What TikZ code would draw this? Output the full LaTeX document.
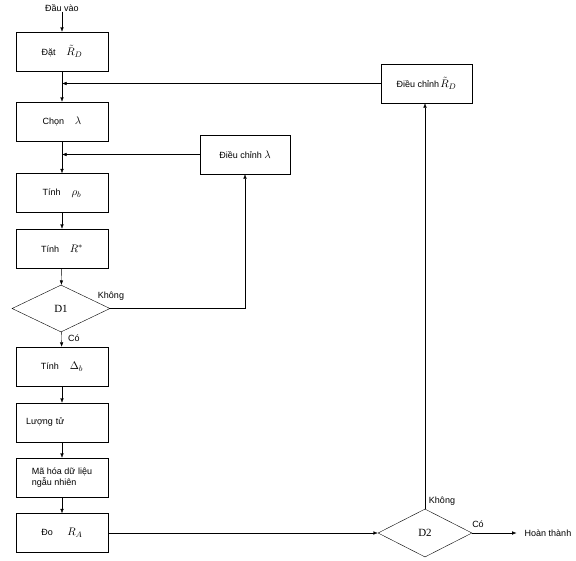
\documentclass[tikz,border=0pt]{standalone}
\usepackage{fontspec}
\setmainfont{Liberation Sans}
\newfontfamily\decfont{Liberation Serif}
\usepackage{amsmath}
\usetikzlibrary{shapes.geometric,arrows.meta}
\newcommand{\mth}[1]{{\fontsize{11}{13}\selectfont$#1$}}

\begin{document}
\begin{tikzpicture}[x=1pt,y=1pt,font=\fontsize{9}{11}\selectfont]
		\tikzstyle{every node}+=[inner sep=0pt]
		\tikzstyle{box}=[draw=black, minimum width=92pt, minimum height=39pt]
		\tikzstyle{dec}=[draw=black, diamond, minimum width=98pt, minimum height=47pt, font=\fontsize{11}{13}\decfont]
		\tikzstyle{flow}=[draw=black, -{Latex[length=4.5pt,width=3.5pt]}]
		\useasboundingbox (0,0) rectangle (576,-560);
		\node (vao) at (62,-8) {Đầu vào};
		\node [box] (dat) at (62,-51.5) {Đặt\hspace{1.2em}\mth{\tilde{R}_D}};
		\node [box] (chon) at (62,-121.5) {Chọn\hspace{1.2em}\mth{\lambda}};
		\node [box] (rho) at (62,-193) {Tính\hspace{1.2em}\mth{\rho_b}};
		\node [box] (rstar) at (62,-248.5) {Tính\hspace{1.2em}\mth{R^*}};
		\node [dec] (d1) at (61,-308.5) {D1};
		\node [box] (delta) at (62,-366.5) {Tính\hspace{1.2em}\mth{\Delta_b}};
		\node [box, text width=72pt, align=left] (luong) at (62,-422.5) {Lượng tử};
		\node [box, align=left] (mahoa) at (62,-477.5) {Mã hóa dữ liệu\\ngẫu nhiên};
		\node [box] (do) at (62,-533) {Đo\hspace{1.6em}\mth{R_A}};
		\node [box, minimum width=90pt] (dclam) at (245,-154.5) {Điều chỉnh \mth{\lambda}};
		\node [box, minimum width=91pt] (dcR) at (426.5,-83.5) {Điều chỉnh\hspace{1pt}\mth{\tilde{R}_D}};
		\node [dec, minimum width=94pt, minimum height=48pt] (d2) at (425,-533) {D2};
		\node (hoan) at (548,-533) {Hoàn thành};
		% nhan
		\node (khong1) at (111,-296) {Không};
		\node (co1) at (74,-338) {Có};
		\node (khong2) at (442,-501) {Không};
		\node (co2) at (478,-524) {Có};
		% mui ten
		\draw [flow] (vao) -- (dat);
		\draw [flow] (dat) -- (chon);
		\draw [flow] (dcR.west) -- (dcR.west -| dat.south);
		\draw [flow] (chon) -- (rho);
		\draw [flow] (dclam.west) -- (dclam.west -| chon.south);
		\draw [flow] (rho) -- (rstar);
		\draw [flow] (rstar) -- (d1);
		\draw [flow] (d1.east) -| (dclam.south);
		\draw [flow] (d1) -- (delta);
		\draw [flow] (delta) -- (luong);
		\draw [flow] (luong) -- (mahoa);
		\draw [flow] (mahoa) -- (do);
		\draw [flow] (do.east) -- (d2.west);
		\draw [flow] (d2.north) -- (d2.north |- dcR.south);
		\draw [flow, shorten >=8pt] (d2.east) -- (hoan.west);
	\end{tikzpicture}
\end{document}
